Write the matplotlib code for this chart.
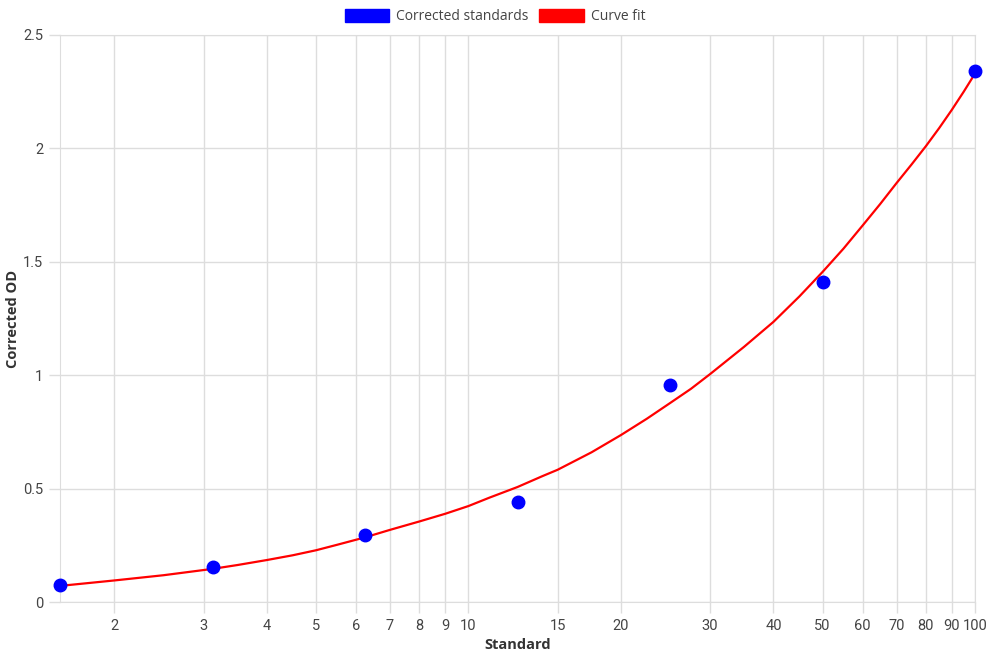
import matplotlib.pyplot as plt
from matplotlib.patches import Patch
from matplotlib.ticker import FixedLocator, NullLocator, FuncFormatter

# corrected standards (blue points)
std_x = [1.5625, 3.125, 6.25, 12.5, 25, 50, 100]
std_y = [0.075, 0.154, 0.295, 0.44, 0.957, 1.41, 2.341]

# curve fit
fit_x = [1.5625, 1.75, 2, 2.5, 3.125, 3.5, 4, 4.5, 5, 5.5, 6.25, 7, 8, 9, 10, 11,
         12.5, 14, 15, 17.5, 20, 22.5, 25, 27.5, 30, 35, 40, 45, 50, 55, 60, 65,
         70, 75, 80, 85, 90, 95, 100]
fit_y = [0.071, 0.082, 0.095, 0.118, 0.146, 0.163, 0.185, 0.206, 0.228, 0.252, 0.285, 0.318, 0.355, 0.389, 0.423, 0.46,
         0.507, 0.555, 0.583, 0.66, 0.736, 0.808, 0.877, 0.94, 1.005, 1.125, 1.235, 1.347, 1.455, 1.558, 1.66, 1.755,
         1.847, 1.93, 2.01, 2.09, 2.17, 2.25, 2.33]

xticks = [2, 3, 4, 5, 6, 7, 8, 9, 10, 15, 20, 30, 40, 50, 60, 70, 80, 90, 100]
yticks = [0, 0.5, 1, 1.5, 2, 2.5]

plt.rcParams['font.family'] = ['Roboto', 'DejaVu Sans']
grid_c = '#dddddd'

fig = plt.figure(figsize=(9.9, 6.6), dpi=100)
ax = fig.add_axes([60/990, 1-602/660, 915/990, 567/660])

ax.plot(fit_x, fit_y, '-', color='red', linewidth=1.6, zorder=3, solid_joinstyle='round')
ax.plot(std_x, std_y, 'o', color='blue', markersize=9, zorder=4, linestyle='none', clip_on=False)

ax.set_xscale('log')
ax.set_xlim(1.5625, 100)
ax.set_ylim(0, 2.5)
ax.xaxis.set_major_locator(FixedLocator(xticks))
ax.xaxis.set_minor_locator(NullLocator())
ax.xaxis.set_major_formatter(FuncFormatter(lambda v, p: '%g' % v))
ax.yaxis.set_major_locator(FixedLocator(yticks))
ax.yaxis.set_major_formatter(FuncFormatter(lambda v, p: '%g' % v))

ax.grid(True, color=grid_c, linewidth=1)
ax.set_axisbelow(True)
for s in ax.spines.values():
    s.set_color(grid_c)
ax.tick_params(axis='both', colors=grid_c, length=8, width=1, labelcolor='#444444', labelsize=10.5)
ax.tick_params(axis='x', pad=4)
ax.tick_params(axis='y', pad=4)

ax.set_xlabel('Standard', fontsize=10.5, fontweight='bold', color='#333333', family=['Open Sans', 'DejaVu Sans'])
ax.xaxis.set_label_coords(0.5, -(645-602)/567)
ax.xaxis.label.set_va('center')
ax.set_ylabel('Corrected OD', fontsize=10.5, fontweight='bold', color='#333333', family=['Open Sans', 'DejaVu Sans'])
ax.yaxis.set_label_coords(-(60-13)/915, 0.5)
ax.yaxis.label.set_va('center')

handles = [Patch(facecolor='blue', edgecolor='blue', label='Corrected standards'),
           Patch(facecolor='red', edgecolor='red', label='Curve fit')]
fig.legend(handles=handles, loc='upper center', bbox_to_anchor=(0.5, 1.005), ncol=2, frameon=False,
           handlelength=3.2, handleheight=1.0, handletextpad=0.5, columnspacing=0.8,
           prop={'family': ['Open Sans', 'DejaVu Sans'], 'size': 10}, labelcolor='#444444')

fig.savefig('out.png', dpi=100)
